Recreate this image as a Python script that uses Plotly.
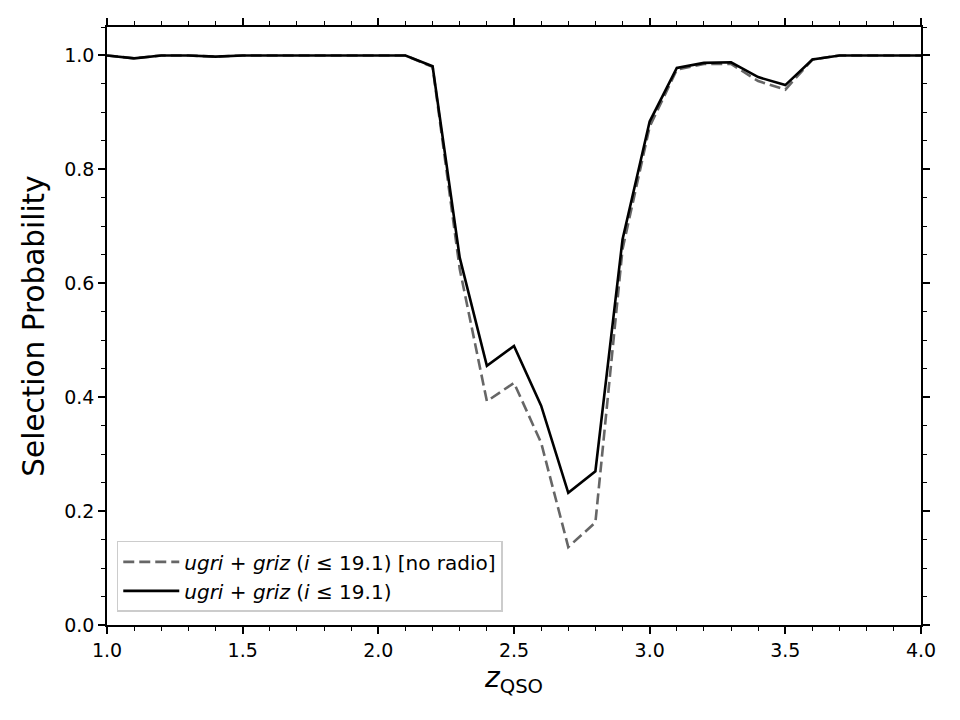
import plotly.graph_objects as go

z = [1.0, 1.1, 1.2, 1.3, 1.4, 1.5, 1.6, 1.7, 1.8, 1.9, 2.0, 2.1, 2.2, 2.3, 2.4, 2.5,
     2.6, 2.7, 2.8, 2.9, 3.0, 3.1, 3.2, 3.3, 3.4, 3.5, 3.6, 3.7, 3.8, 3.9, 4.0]

p_noradio = [1.0, 0.995, 1.0, 1.0, 0.998, 1.0, 1.0, 1.0, 1.0, 1.0, 1.0, 1.0, 0.98, 0.625, 0.393, 0.425,
             0.32, 0.137, 0.18, 0.66, 0.875, 0.975, 0.985, 0.985, 0.955, 0.94, 0.993, 1.0, 1.0, 1.0, 1.0]

p_radio = [1.0, 0.995, 1.0, 1.0, 0.998, 1.0, 1.0, 1.0, 1.0, 1.0, 1.0, 1.0, 0.981, 0.645, 0.455, 0.49,
           0.385, 0.232, 0.27, 0.677, 0.884, 0.978, 0.987, 0.988, 0.962, 0.948, 0.993, 1.0, 1.0, 1.0, 1.0]

label_noradio = "<i>ugri</i> + <i>griz</i> (<i>i</i> ≤ 19.1) [no radio]"
label_radio = "<i>ugri</i> + <i>griz</i> (<i>i</i> ≤ 19.1)"

FONT = "DejaVu Sans"

fig = go.Figure()
fig.add_trace(go.Scatter(x=z, y=p_noradio, mode="lines", name=label_noradio,
                         line=dict(color="#666666", width=2.6, dash="11px,5px")))
fig.add_trace(go.Scatter(x=z, y=p_radio, mode="lines", name=label_radio,
                         line=dict(color="black", width=2.6)))

axis_common = dict(
    showgrid=False, zeroline=False, showline=True, linecolor="black", linewidth=1.6,
    mirror="ticks", ticks="outside", ticklen=7, tickwidth=1.6, tickcolor="black",
    tickfont=dict(family=FONT, size=19, color="black"), tickformat=".1f",
)

fig.update_xaxes(range=[1.0, 4.0], tick0=1.0, dtick=0.5,
                 minor=dict(dtick=0.1, ticks="outside", ticklen=4, tickwidth=1.2, tickcolor="black"),
                 title=dict(text="<i>z</i><sub>QSO</sub>", font=dict(family=FONT, size=28, color="black"),
                            standoff=8),
                 **axis_common)
fig.update_yaxes(range=[0, 1.05], tick0=0, dtick=0.2,
                 minor=dict(dtick=0.05, ticks="outside", ticklen=4, tickwidth=1.2, tickcolor="black"),
                 title=dict(text="Selection Probability", font=dict(family=FONT, size=29.5, color="black"),
                            standoff=11),
                 **axis_common)

fig.update_layout(
    width=960, height=720,
    margin=dict(l=107, r=39, t=27, b=95),
    plot_bgcolor="white", paper_bgcolor="white",
    font=dict(family=FONT, color="black"),
    legend=dict(x=0.012, y=0.022, xanchor="left", yanchor="bottom",
                bgcolor="rgba(255,255,255,0.8)", bordercolor="#cccccc", borderwidth=1.5,
                font=dict(family=FONT, size=20, color="black"), traceorder="normal",
                itemwidth=56),
    showlegend=True,
)

fig.write_html("out.html")
